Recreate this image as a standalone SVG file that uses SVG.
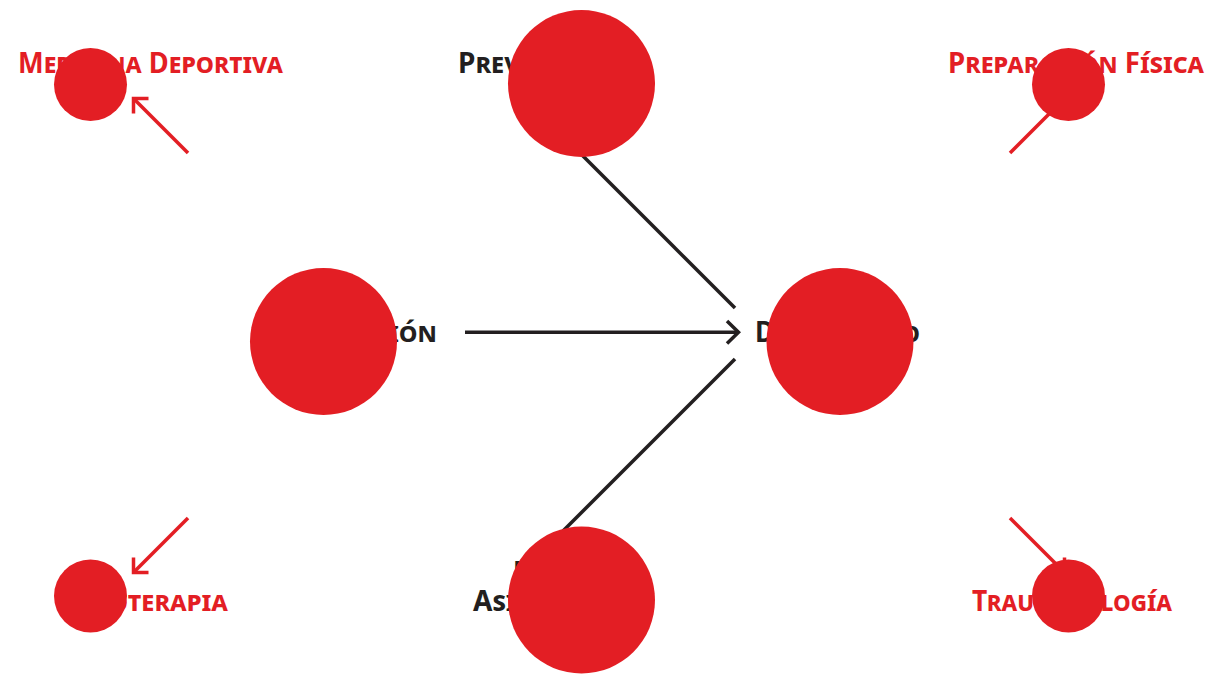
<svg xmlns="http://www.w3.org/2000/svg" width="1214" height="674" viewBox="0 0 1214 674">
  <style>
    .lbl { font-family: "Noto Sans", "Open Sans", "DejaVu Sans", sans-serif; font-weight: 700; font-size: 28px; font-variant: small-caps; }
    .red { fill: #E31E24; }
    .dark { fill: #231F20; }
    .blob { fill: #E31E24; }
    .ln-dark { stroke: #231F20; stroke-width: 3.5; fill: none; }
    .ln-red { stroke: #E31E24; stroke-width: 3.5; fill: none; }
  </style>
  <rect width="1214" height="674" fill="#FFFFFF"/>

  <g id="connectors">
    <line class="ln-dark" x1="582" y1="155" x2="735" y2="308"/>
    <line class="ln-dark" x1="735" y1="359" x2="563" y2="531"/>
    <line class="ln-dark" x1="465" y1="332.3" x2="738" y2="332.3"/>
    <polyline class="ln-dark" points="727,321 738.5,332.3 727,343.6"/>

    <line class="ln-red" x1="188" y1="153" x2="134" y2="99"/>
    <polyline class="ln-red" points="148.5,98.5 133.5,98.5 133.5,113.5"/>

    <line class="ln-red" x1="1010" y1="153" x2="1064" y2="99"/>
    <polyline class="ln-red" points="1049.5,98.5 1064.5,98.5 1064.5,113.5"/>

    <line class="ln-red" x1="188" y1="518" x2="134" y2="572"/>
    <polyline class="ln-red" points="148.5,572.5 133.5,572.5 133.5,557.5"/>

    <line class="ln-red" x1="1010" y1="518" x2="1064" y2="572"/>
    <polyline class="ln-red" points="1049.5,572.5 1064.5,572.5 1064.5,557.5"/>
  </g>

  <g id="node-medicina-deportiva">
    <text class="lbl red" x="18" y="72.5" textLength="265" lengthAdjust="spacingAndGlyphs">Medicina Deportiva</text>
    <circle class="blob" cx="90.5" cy="84.5" r="36.5"/>
  </g>

  <g id="node-prevencion">
    <text class="lbl dark" x="458" y="72.5">Prevención</text>
    <circle class="blob" cx="581.5" cy="83.5" r="73.5"/>
  </g>

  <g id="node-preparacion-fisica">
    <text class="lbl red" x="948" y="72.5" textLength="256" lengthAdjust="spacingAndGlyphs">Preparación Física</text>
    <circle class="blob" cx="1068.5" cy="84.5" r="36.5"/>
  </g>

  <g id="node-evaluacion">
    <text class="lbl dark" x="437" y="341.5" text-anchor="end">Evaluación</text>
    <circle class="blob" cx="323.5" cy="341.5" r="73.5"/>
  </g>

  <g id="node-diagnostico">
    <text class="lbl dark" x="755" y="341.5" textLength="165" lengthAdjust="spacingAndGlyphs">Diagnóstico</text>
    <circle class="blob" cx="840" cy="341.5" r="73.5"/>
  </g>

  <g id="node-fisioterapia">
    <text class="lbl red" x="228" y="610.5" text-anchor="end">Fisioterapia</text>
    <circle class="blob" cx="90.5" cy="596" r="36.5"/>
  </g>

  <g id="node-asistencia">
    <text class="lbl dark"><tspan x="513" y="581.5" textLength="130" lengthAdjust="spacingAndGlyphs">Nutrición</tspan><tspan x="473" y="610.5">Asistencia</tspan></text>
    <circle class="blob" cx="581.5" cy="600" r="73.5"/>
  </g>

  <g id="node-traumatologia">
    <text class="lbl red" x="972" y="610.5" textLength="200" lengthAdjust="spacingAndGlyphs">Traumatología</text>
    <circle class="blob" cx="1068.5" cy="596" r="36.5"/>
  </g>
</svg>
